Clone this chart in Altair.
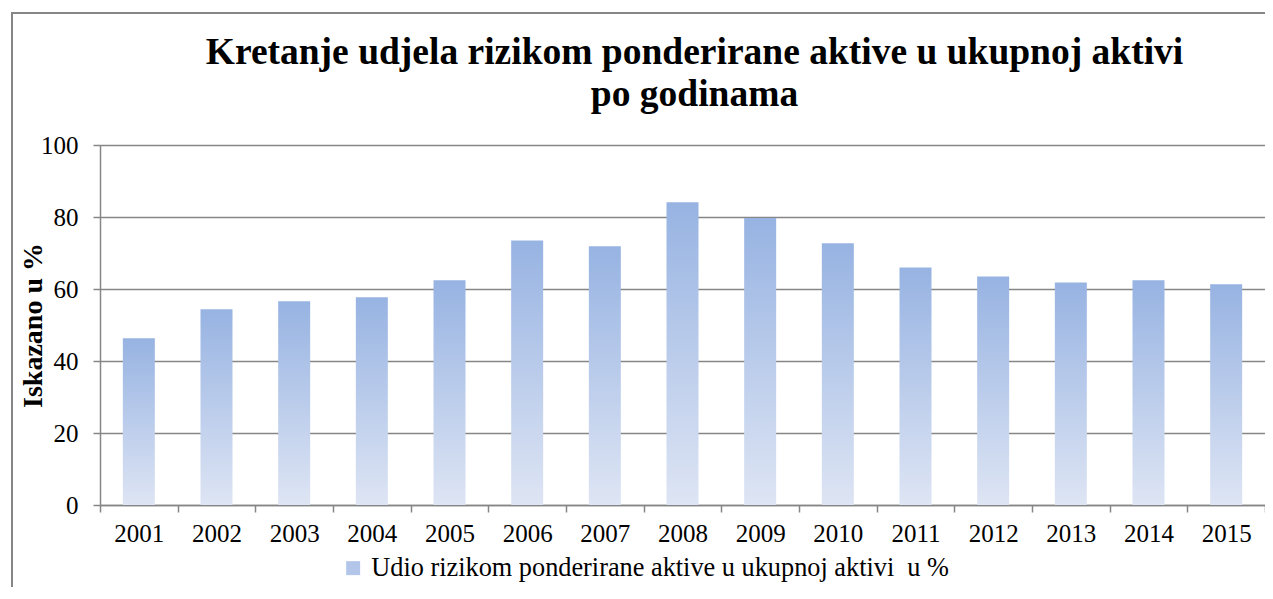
import altair as alt
import pandas as pd

years = ["2001", "2002", "2003", "2004", "2005", "2006", "2007", "2008",
         "2009", "2010", "2011", "2012", "2013", "2014", "2015"]
values = [46.3, 54.4, 56.6, 57.7, 62.4, 73.5, 71.9, 84.1,
          79.7, 72.7, 66.0, 63.5, 61.8, 62.4, 61.3]
series_name = "Udio rizikom ponderirane aktive u ukupnoj aktivi\u00a0 u %"
title_lines = ["Kretanje udjela rizikom ponderirane aktive u ukupnoj aktivi",
               "po godinama"]
y_title = "Iskazano u %"
y_ticks = [0, 20, 40, 60, 80, 100]

df = pd.DataFrame({"year": years, "value": values, "series": series_name})

FONT = "'Liberation Serif', 'Times New Roman', serif"
GRAY = "#868686"
grad = alt.Gradient(
    gradient="linear",
    stops=[alt.GradientStop(color="#97B3E2", offset=0),
           alt.GradientStop(color="#DEE5F4", offset=1)],
    x1=0, x2=0, y1=0, y2=1,
)

x_enc = alt.X(
    "year:N", sort=years, title=None,
    scale=alt.Scale(paddingInner=0, paddingOuter=0),
    axis=alt.Axis(labelAngle=0, labelFont=FONT, labelFontSize=25, labelColor="#000000",
                  domainColor=GRAY, domainWidth=1.5, tickColor=GRAY, tickWidth=1.5,
                  tickSize=7, tickBand="extent", labelPadding=9, grid=False),
)
y_enc = alt.Y(
    "value:Q", title=y_title,
    scale=alt.Scale(domain=[0, 100], nice=False),
    axis=alt.Axis(values=y_ticks, labelFont=FONT, labelFontSize=25, labelColor="#000000",
                  domainColor=GRAY, domainWidth=1.5, tickColor=GRAY, tickWidth=1.5,
                  tickSize=7, labelPadding=15, grid=True, gridColor=GRAY, gridWidth=1.5,
                  titleFont=FONT, titleFontSize=28, titleFontWeight="bold",
                  titleColor="#000000", titleAngle=270, titleAlign="center",
                  titleBaseline="alphabetic", titleX=-59, titleY=180),
)

border = alt.Chart(df).mark_rect(fill=None, stroke=GRAY, strokeWidth=1.5).encode(
    x=alt.value(-88), x2=alt.value(1200), y=alt.value(-132), y2=alt.value(600)
)

bars = alt.Chart(df).mark_bar(color=grad, width=alt.RelativeBandSize(0.412)).encode(
    x=x_enc, y=y_enc
)

legend_layer = alt.Chart(df).mark_bar(opacity=0, width=alt.RelativeBandSize(0.412)).encode(
    x=x_enc, y=y_enc,
    color=alt.Color(
        "series:N", title=None,
        scale=alt.Scale(domain=[series_name], range=["#B3C6EA"]),
        legend=alt.Legend(orient="none", legendX=240, legendY=410, padding=0,
                          symbolType="square", symbolSize=196, symbolOpacity=1,
                          symbolStrokeWidth=0, labelFont=FONT, labelFontSize=26.3,
                          labelColor="#000000", labelOffset=5, labelLimit=900),
    ),
)

chart = alt.layer(border, bars, legend_layer).properties(
    width=1165, height=360,
    autosize=alt.AutoSizeParams(type="none"),
    padding={"left": 92, "top": 137, "right": 0, "bottom": 82},
    title=alt.TitleParams(title_lines, font=FONT, fontSize=37.5, fontWeight="bold",
                          color="#000000", anchor="middle", frame="group",
                          baseline="bottom", lineHeight=42, offset=32, dx=12, dy=171),
).configure_view(stroke=None).configure(background="white", font=FONT)

chart.save("out.html", embed_options={"renderer": "svg", "actions": False})
